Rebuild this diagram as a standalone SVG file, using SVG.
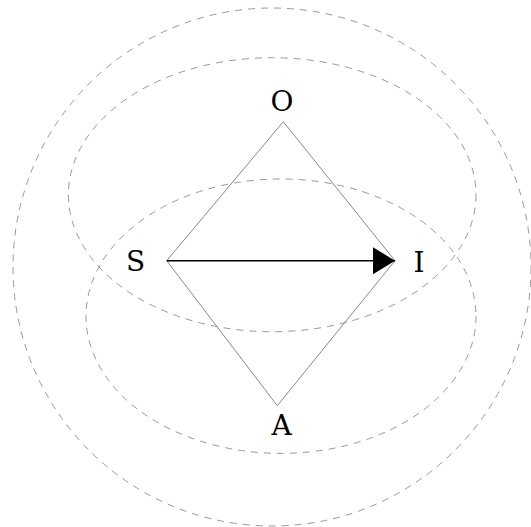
<svg xmlns="http://www.w3.org/2000/svg" width="531" height="527" viewBox="0 0 531 527">
  <style>
    .zone { fill: none; stroke: #999999; stroke-width: 1; stroke-dasharray: 7 6; }
    .edge { fill: none; stroke: #888888; stroke-width: 1; }
    .arrow { fill: none; stroke: #000000; stroke-width: 1.6; }
    .lbl { font-family: "DejaVu Serif", "Liberation Serif", serif; font-size: 28px; fill: #000000; text-anchor: middle; }
  </style>
  <defs>
    <marker id="head" markerUnits="userSpaceOnUse" markerWidth="24" markerHeight="30" refX="22" refY="13.5" orient="auto">
      <path d="M0,0 L22,13.5 L0,27 Z" fill="#000000"/>
    </marker>
  </defs>
  <rect width="531" height="527" fill="#ffffff"/>
  <g id="zones">
    <circle class="zone" cx="272" cy="267" r="259"/>
    <ellipse class="zone" cx="272.2" cy="194.7" rx="203.8" ry="137"/>
    <ellipse class="zone" cx="281" cy="316.2" rx="195" ry="137.2"/>
  </g>
  <g id="connectors">
    <line class="edge" x1="283.3" y1="121.7" x2="166.7" y2="260.7"/>
    <line class="edge" x1="283.3" y1="121.7" x2="395" y2="260.7"/>
    <line class="edge" x1="166.7" y1="260.7" x2="277.3" y2="405.7"/>
    <line class="edge" x1="395" y1="260.7" x2="277.3" y2="405.7"/>
    <line class="arrow" x1="166.7" y1="260.7" x2="395" y2="260.7" marker-end="url(#head)"/>
  </g>
  <g id="node-O"><text class="lbl" x="282" y="110.5">O</text></g>
  <g id="node-S"><text class="lbl" x="135.5" y="271">S</text></g>
  <g id="node-I"><text class="lbl" x="419" y="271.5">I</text></g>
  <g id="node-A"><text class="lbl" x="281.7" y="435">A</text></g>
</svg>
